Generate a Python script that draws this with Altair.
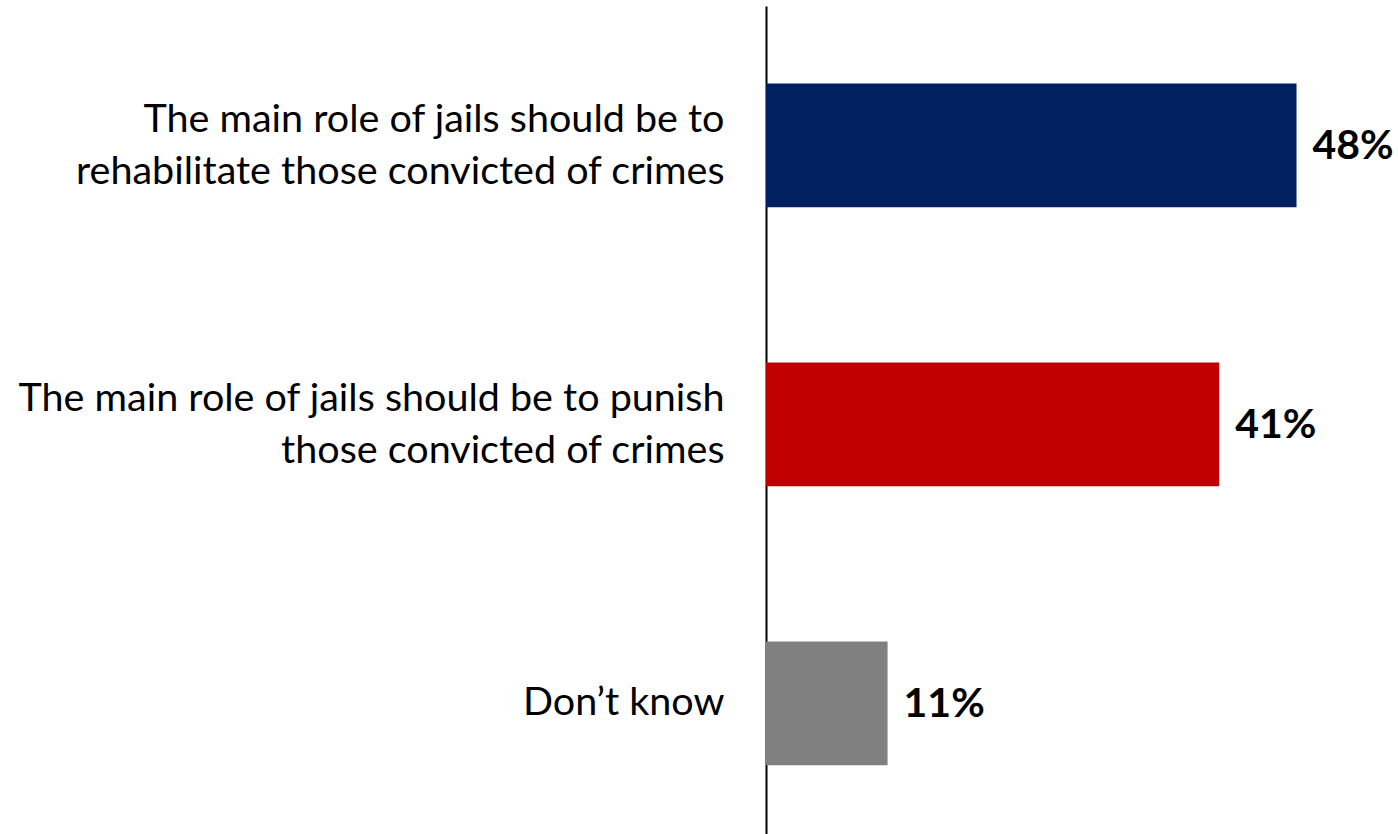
import altair as alt
import pandas as pd

categories = [
    "The main role of jails should be to\nrehabilitate those convicted of crimes",
    "The main role of jails should be to punish\nthose convicted of crimes",
    "Don\u2019t know",
]
values = [48, 41, 11]
labels = ["48%", "41%", "11%"]
colors = ["#002060", "#C00000", "#808080"]

df = pd.DataFrame({"cat": categories, "val": values, "lab": labels, "col": colors})

FONT = "Lato"

y_enc = alt.Y(
    "cat:N",
    sort=categories,
    scale=alt.Scale(paddingInner=0.556, paddingOuter=0.262, align=0.53),
    axis=alt.Axis(
        title=None,
        domain=True,
        domainColor="#000000",
        domainWidth=2,
        ticks=False,
        labelFont=FONT,
        labelFontSize=39.5,
        labelColor="#000000",
        labelPadding=42,
        labelLimit=0,
        labelLineHeight=52,
        labelAlign="right",
        labelOffset={"condition": {"test": "indexof(datum.value, '\\n') >= 0", "value": -25}, "value": 0},
        labelExpr="split(datum.label, '\\n')",
    ),
)
x_enc = alt.X("val:Q", scale=alt.Scale(domain=[0, 57]), axis=None)

bars = alt.Chart(df).mark_bar().encode(
    x=x_enc,
    y=y_enc,
    color=alt.Color("col:N", scale=None, legend=None),
)

text = alt.Chart(df).mark_text(
    align="left", baseline="middle", dx=16, dy=2, font=FONT, fontSize=41, fontWeight="bold", color="#000000"
).encode(x=x_enc, y=alt.Y("cat:N", sort=categories), text="lab:N")

chart = (
    alt.layer(bars, text)
    .properties(
        width=630,
        height=828,
        autosize=alt.AutoSizeParams(type="none"),
        padding={"left": 766, "top": 6, "right": 2, "bottom": 0},
        background="white",
    )
    .configure_view(stroke=None)
)

chart.save("out.html", embed_options={"renderer": "svg", "actions": False})
